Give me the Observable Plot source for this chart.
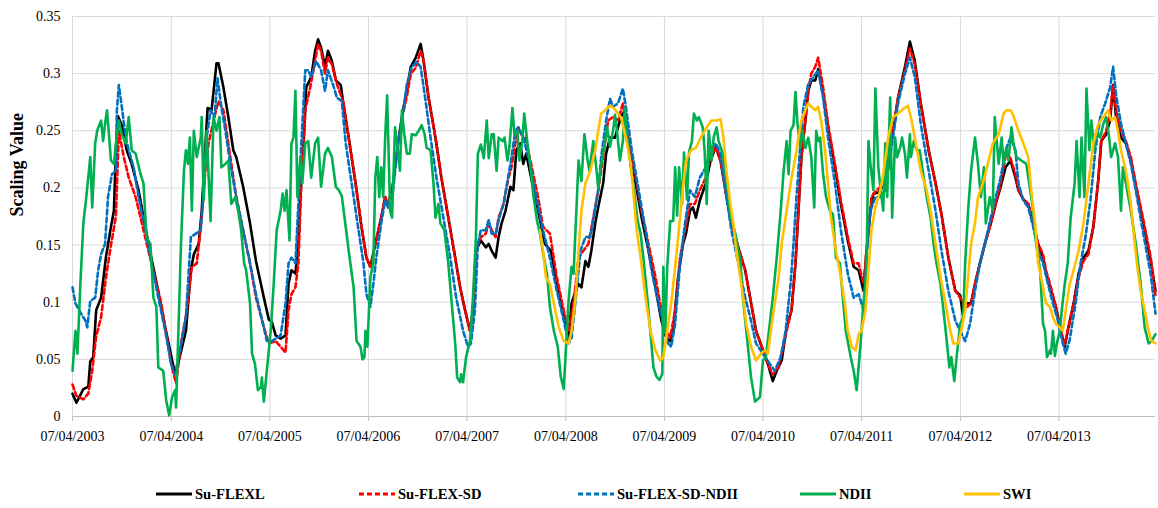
<!DOCTYPE html>
<html><head><meta charset="utf-8">
<script src="https://cdn.jsdelivr.net/npm/d3@7"></script>
<script src="https://cdn.jsdelivr.net/npm/@observablehq/plot@0.6"></script>
<style>
body{margin:0;background:#fff;}
#chart{position:relative;width:1158px;height:508px;font-family:"Liberation Serif","Times New Roman",serif;}
.item{position:absolute;top:485px;display:flex;align-items:center;height:18px;font-weight:bold;font-size:14.6px;color:#000;white-space:nowrap;}
.item svg{margin-right:3px;}
</style></head>
<body><div id="chart"></div>
<script>
// x values: years elapsed since 07/04/2003; y values: scaling value
const xTickLabels = ["07/04/2003","07/04/2004","07/04/2005","07/04/2006","07/04/2007","07/04/2008","07/04/2009","07/04/2010","07/04/2011","07/04/2012","07/04/2013"];
const yTicks = [0,0.05,0.1,0.15,0.2,0.25,0.3,0.35];
const xEnd = 10.98;

const suFlexL = [[0,.020],[.04,.012],[.11,.024],[.16,.026],[.18,.048],[.21,.052],[.24,.093],[.29,.104],[.34,.140],[.39,.166],[.42,.180],[.44,.233],[.46,.263],[.50,.255],[.55,.233],[.60,.221],[.67,.198],[.77,.151],[.84,.122],[.94,.078],[1.04,.037],[1.07,.046],[1.15,.075],[1.20,.128],[1.23,.142],[1.28,.151],[1.31,.180],[1.35,.241],[1.37,.270],[1.41,.268],[1.46,.309],[1.48,.309],[1.53,.288],[1.58,.262],[1.63,.233],[1.66,.227],[1.73,.201],[1.80,.169],[1.86,.136],[1.94,.104],[1.99,.085],[2.02,.083],[2.06,.071],[2.11,.068],[2.16,.071],[2.19,.116],[2.22,.128],[2.26,.125],[2.29,.151],[2.31,.192],[2.34,.233],[2.37,.288],[2.42,.297],[2.46,.320],[2.49,.330],[2.52,.323],[2.56,.306],[2.59,.320],[2.63,.311],[2.67,.294],[2.72,.290],[2.75,.271],[2.80,.244],[2.87,.204],[2.93,.166],[2.98,.139],[3.02,.131],[3.07,.151],[3.13,.174],[3.17,.192],[3.20,.183],[3.25,.204],[3.30,.239],[3.35,.268],[3.39,.285],[3.43,.306],[3.48,.314],[3.53,.326],[3.56,.311],[3.61,.279],[3.68,.244],[3.74,.209],[3.81,.174],[3.88,.139],[3.93,.113],[3.98,.093],[4.03,.075],[4.06,.093],[4.09,.145],[4.14,.154],[4.19,.148],[4.22,.151],[4.25,.145],[4.29,.139],[4.32,.157],[4.35,.169],[4.39,.180],[4.44,.201],[4.47,.198],[4.50,.233],[4.54,.239],[4.57,.221],[4.60,.230],[4.65,.209],[4.72,.180],[4.79,.151],[4.85,.145],[4.93,.107],[5.00,.081],[5.03,.069],[5.06,.099],[5.10,.110],[5.13,.116],[5.16,.113],[5.20,.136],[5.23,.131],[5.26,.145],[5.30,.169],[5.33,.183],[5.38,.204],[5.41,.230],[5.45,.244],[5.50,.244],[5.53,.253],[5.56,.262],[5.60,.268],[5.64,.239],[5.71,.204],[5.77,.174],[5.84,.145],[5.91,.113],[5.97,.084],[6.02,.069],[6.06,.066],[6.09,.075],[6.14,.122],[6.19,.151],[6.22,.160],[6.26,.180],[6.29,.183],[6.32,.174],[6.36,.189],[6.42,.204],[6.47,.224],[6.52,.236],[6.57,.224],[6.62,.198],[6.68,.169],[6.75,.148],[6.82,.128],[6.87,.104],[6.93,.075],[7.00,.058],[7.05,.046],[7.10,.031],[7.14,.040],[7.19,.049],[7.24,.078],[7.29,.093],[7.33,.134],[7.36,.180],[7.39,.227],[7.43,.259],[7.46,.285],[7.49,.294],[7.53,.294],[7.56,.304],[7.61,.282],[7.66,.253],[7.73,.218],[7.79,.186],[7.86,.154],[7.92,.131],[7.97,.128],[8.02,.110],[8.05,.145],[8.09,.180],[8.12,.195],[8.17,.196],[8.24,.204],[8.30,.239],[8.37,.279],[8.44,.306],[8.49,.328],[8.54,.311],[8.60,.274],[8.68,.233],[8.75,.204],[8.81,.177],[8.88,.139],[8.95,.110],[9.00,.106],[9.03,.087],[9.06,.099],[9.11,.099],[9.15,.116],[9.20,.134],[9.25,.151],[9.31,.169],[9.36,.186],[9.41,.201],[9.46,.218],[9.51,.224],[9.56,.209],[9.59,.198],[9.64,.190],[9.69,.186],[9.74,.169],[9.79,.151],[9.84,.139],[9.87,.125],[9.92,.110],[9.97,.096],[10.02,.075],[10.06,.061],[10.09,.075],[10.15,.099],[10.20,.125],[10.25,.139],[10.30,.145],[10.35,.166],[10.40,.207],[10.43,.241],[10.48,.247],[10.52,.259],[10.55,.290],[10.58,.262],[10.63,.244],[10.68,.239],[10.73,.224],[10.78,.201],[10.85,.172],[10.93,.137],[10.98,.110]];

const suFlexSD = [[0,.028],[.04,.018],[.11,.015],[.16,.020],[.20,.040],[.24,.070],[.29,.087],[.34,.122],[.39,.150],[.42,.165],[.44,.175],[.47,.250],[.52,.227],[.57,.209],[.64,.192],[.77,.145],[.90,.099],[1.00,.046],[1.05,.029],[1.10,.064],[1.16,.093],[1.21,.131],[1.26,.134],[1.31,.174],[1.35,.218],[1.38,.239],[1.43,.259],[1.48,.276],[1.53,.268],[1.60,.227],[1.66,.192],[1.73,.163],[1.80,.134],[1.86,.104],[1.94,.078],[1.99,.064],[2.06,.066],[2.11,.061],[2.16,.056],[2.19,.093],[2.22,.107],[2.26,.113],[2.29,.134],[2.32,.204],[2.36,.268],[2.41,.288],[2.46,.311],[2.49,.326],[2.52,.320],[2.56,.300],[2.59,.314],[2.63,.308],[2.68,.291],[2.75,.274],[2.80,.244],[2.87,.204],[2.93,.166],[2.98,.139],[3.02,.131],[3.07,.151],[3.13,.174],[3.17,.192],[3.20,.186],[3.25,.204],[3.30,.239],[3.35,.265],[3.39,.280],[3.43,.300],[3.48,.305],[3.53,.320],[3.56,.311],[3.61,.279],[3.68,.244],[3.74,.209],[3.81,.174],[3.88,.139],[3.93,.113],[3.98,.093],[4.03,.075],[4.06,.093],[4.09,.145],[4.14,.157],[4.19,.160],[4.22,.169],[4.25,.163],[4.29,.157],[4.32,.174],[4.37,.186],[4.42,.209],[4.45,.218],[4.49,.239],[4.52,.253],[4.55,.247],[4.59,.244],[4.65,.221],[4.72,.192],[4.77,.166],[4.84,.160],[4.91,.122],[4.98,.093],[5.03,.075],[5.08,.099],[5.13,.139],[5.18,.145],[5.23,.151],[5.28,.174],[5.33,.198],[5.38,.227],[5.43,.259],[5.48,.262],[5.53,.259],[5.58,.274],[5.64,.241],[5.71,.209],[5.77,.180],[5.84,.151],[5.91,.122],[5.97,.093],[6.02,.075],[6.06,.069],[6.11,.093],[6.16,.139],[6.21,.163],[6.26,.186],[6.31,.186],[6.36,.198],[6.42,.209],[6.47,.227],[6.52,.236],[6.57,.224],[6.62,.198],[6.68,.169],[6.75,.148],[6.82,.128],[6.87,.104],[6.93,.075],[7.00,.058],[7.05,.046],[7.10,.037],[7.16,.043],[7.24,.075],[7.29,.093],[7.33,.134],[7.36,.180],[7.39,.227],[7.43,.259],[7.46,.285],[7.49,.300],[7.53,.306],[7.56,.314],[7.61,.288],[7.66,.256],[7.73,.221],[7.79,.189],[7.86,.157],[7.92,.134],[7.97,.134],[8.02,.116],[8.05,.145],[8.10,.192],[8.15,.198],[8.24,.204],[8.30,.239],[8.37,.279],[8.44,.303],[8.49,.322],[8.54,.308],[8.60,.274],[8.68,.233],[8.75,.204],[8.81,.177],[8.88,.139],[8.95,.110],[9.00,.104],[9.06,.095],[9.11,.099],[9.15,.116],[9.20,.134],[9.25,.151],[9.31,.169],[9.36,.186],[9.41,.204],[9.47,.232],[9.51,.226],[9.56,.212],[9.59,.198],[9.64,.190],[9.69,.186],[9.74,.169],[9.79,.151],[9.84,.142],[9.87,.128],[9.92,.113],[9.97,.096],[10.02,.075],[10.06,.063],[10.09,.075],[10.15,.099],[10.20,.122],[10.25,.136],[10.30,.142],[10.35,.166],[10.40,.207],[10.43,.241],[10.48,.250],[10.52,.265],[10.55,.290],[10.58,.268],[10.63,.250],[10.68,.241],[10.73,.227],[10.78,.204],[10.85,.175],[10.93,.140],[10.98,.105]];

const suFlexSDNDII = [[0,.113],[.03,.099],[.08,.091],[.13,.084],[.15,.078],[.18,.101],[.23,.104],[.26,.128],[.29,.142],[.33,.151],[.36,.192],[.40,.212],[.44,.215],[.45,.268],[.47,.290],[.50,.271],[.54,.244],[.57,.233],[.62,.218],[.67,.192],[.74,.163],[.80,.134],[.87,.104],[.94,.075],[1.00,.046],[1.04,.037],[1.09,.058],[1.15,.087],[1.20,.157],[1.25,.160],[1.30,.163],[1.33,.198],[1.36,.244],[1.40,.268],[1.44,.262],[1.47,.296],[1.51,.270],[1.55,.250],[1.60,.221],[1.66,.192],[1.73,.163],[1.80,.134],[1.86,.107],[1.94,.078],[1.97,.066],[2.02,.066],[2.06,.068],[2.11,.071],[2.16,.099],[2.19,.134],[2.22,.139],[2.26,.134],[2.29,.186],[2.32,.239],[2.36,.303],[2.39,.303],[2.42,.297],[2.47,.311],[2.52,.303],[2.56,.285],[2.59,.303],[2.65,.288],[2.68,.279],[2.73,.276],[2.77,.239],[2.83,.204],[2.90,.163],[2.95,.134],[2.98,.107],[3.02,.096],[3.05,.116],[3.08,.139],[3.13,.169],[3.17,.189],[3.20,.183],[3.25,.198],[3.30,.239],[3.35,.265],[3.39,.291],[3.44,.306],[3.49,.310],[3.53,.306],[3.58,.276],[3.63,.244],[3.69,.209],[3.76,.174],[3.83,.139],[3.89,.104],[3.96,.075],[4.01,.061],[4.04,.064],[4.08,.093],[4.11,.151],[4.14,.163],[4.19,.163],[4.22,.172],[4.25,.160],[4.29,.160],[4.32,.172],[4.37,.186],[4.44,.221],[4.49,.250],[4.52,.253],[4.57,.244],[4.64,.221],[4.70,.192],[4.77,.163],[4.84,.139],[4.91,.110],[4.98,.084],[5.03,.064],[5.06,.069],[5.10,.101],[5.15,.145],[5.20,.157],[5.25,.157],[5.28,.172],[5.33,.198],[5.36,.227],[5.41,.259],[5.45,.278],[5.48,.271],[5.53,.274],[5.58,.287],[5.61,.271],[5.67,.233],[5.74,.198],[5.81,.163],[5.87,.128],[5.94,.099],[5.99,.081],[6.04,.064],[6.07,.061],[6.11,.081],[6.16,.134],[6.21,.169],[6.26,.198],[6.31,.192],[6.36,.209],[6.42,.218],[6.47,.233],[6.52,.239],[6.57,.230],[6.62,.198],[6.68,.163],[6.75,.134],[6.82,.104],[6.87,.087],[6.93,.064],[7.00,.055],[7.07,.046],[7.12,.040],[7.18,.052],[7.23,.075],[7.28,.116],[7.31,.151],[7.34,.192],[7.38,.239],[7.41,.271],[7.46,.291],[7.51,.297],[7.56,.303],[7.61,.279],[7.66,.244],[7.73,.204],[7.79,.163],[7.86,.125],[7.92,.104],[7.97,.107],[8.02,.093],[8.05,.139],[8.09,.180],[8.14,.192],[8.19,.192],[8.24,.198],[8.30,.233],[8.37,.274],[8.44,.300],[8.49,.314],[8.54,.297],[8.60,.256],[8.68,.215],[8.75,.180],[8.81,.145],[8.88,.110],[8.95,.084],[9.00,.075],[9.05,.066],[9.10,.081],[9.15,.110],[9.20,.134],[9.25,.151],[9.31,.174],[9.36,.192],[9.41,.209],[9.46,.233],[9.51,.244],[9.56,.233],[9.59,.204],[9.64,.189],[9.69,.183],[9.74,.166],[9.79,.145],[9.84,.134],[9.89,.116],[9.94,.099],[9.99,.084],[10.04,.064],[10.07,.055],[10.11,.067],[10.17,.099],[10.22,.134],[10.27,.157],[10.32,.189],[10.37,.233],[10.42,.262],[10.47,.274],[10.52,.288],[10.55,.306],[10.58,.282],[10.63,.256],[10.68,.239],[10.73,.221],[10.78,.198],[10.85,.163],[10.93,.125],[10.98,.090]];

const ndii = [[0,.040],[.03,.075],[.05,.055],[.08,.116],[.11,.169],[.14,.192],[.18,.227],[.20,.183],[.23,.239],[.25,.250],[.29,.259],[.31,.241],[.33,.256],[.35,.268],[.39,.224],[.42,.221],[.44,.239],[.47,.259],[.50,.247],[.54,.239],[.57,.262],[.60,.233],[.64,.230],[.69,.212],[.72,.204],[.75,.157],[.79,.151],[.82,.104],[.85,.096],[.87,.043],[.92,.040],[.95,.014],[.98,.001],[1.01,.017],[1.04,.023],[1.05,.008],[1.07,.064],[1.10,.151],[1.13,.215],[1.15,.233],[1.17,.221],[1.19,.244],[1.21,.180],[1.23,.250],[1.26,.227],[1.30,.244],[1.31,.262],[1.33,.189],[1.36,.250],[1.40,.171],[1.43,.262],[1.46,.250],[1.49,.262],[1.51,.218],[1.55,.221],[1.58,.224],[1.61,.186],[1.65,.192],[1.68,.180],[1.71,.163],[1.74,.134],[1.76,.128],[1.80,.099],[1.82,.055],[1.85,.046],[1.88,.023],[1.91,.026],[1.92,.034],[1.94,.013],[1.97,.040],[2.01,.075],[2.04,.116],[2.07,.163],[2.11,.180],[2.13,.195],[2.15,.180],[2.17,.198],[2.20,.154],[2.22,.239],[2.24,.244],[2.26,.285],[2.28,.192],[2.31,.227],[2.33,.204],[2.36,.239],[2.39,.241],[2.42,.209],[2.46,.239],[2.49,.244],[2.52,.201],[2.56,.230],[2.59,.235],[2.63,.227],[2.67,.201],[2.70,.198],[2.73,.193],[2.77,.166],[2.80,.145],[2.85,.113],[2.88,.066],[2.92,.061],[2.94,.050],[2.96,.052],[2.97,.075],[2.99,.061],[3.02,.122],[3.05,.134],[3.07,.209],[3.09,.227],[3.11,.192],[3.13,.218],[3.15,.192],[3.17,.244],[3.19,.281],[3.22,.180],[3.24,.174],[3.27,.253],[3.29,.239],[3.32,.215],[3.34,.268],[3.36,.250],[3.39,.230],[3.42,.230],[3.44,.247],[3.48,.246],[3.51,.250],[3.54,.255],[3.57,.247],[3.59,.235],[3.63,.233],[3.66,.204],[3.68,.174],[3.71,.186],[3.73,.169],[3.77,.163],[3.81,.134],[3.84,.104],[3.88,.064],[3.90,.034],[3.93,.030],[3.94,.037],[3.96,.030],[3.99,.052],[4.03,.066],[4.06,.104],[4.09,.157],[4.11,.230],[4.14,.238],[4.17,.226],[4.20,.259],[4.22,.226],[4.25,.247],[4.27,.247],[4.30,.215],[4.32,.244],[4.36,.241],[4.38,.244],[4.41,.224],[4.43,.236],[4.46,.270],[4.48,.247],[4.51,.250],[4.53,.224],[4.56,.241],[4.58,.265],[4.61,.241],[4.64,.221],[4.67,.195],[4.71,.171],[4.74,.160],[4.77,.143],[4.81,.125],[4.84,.096],[4.88,.075],[4.92,.061],[4.95,.035],[4.98,.024],[5.00,.055],[5.03,.102],[5.06,.131],[5.08,.125],[5.11,.183],[5.13,.224],[5.16,.206],[5.19,.247],[5.22,.226],[5.24,.215],[5.28,.241],[5.31,.218],[5.33,.200],[5.37,.226],[5.40,.241],[5.42,.253],[5.45,.236],[5.48,.250],[5.50,.264],[5.52,.250],[5.55,.224],[5.58,.241],[5.60,.270],[5.62,.247],[5.66,.218],[5.69,.200],[5.73,.171],[5.76,.160],[5.79,.137],[5.83,.102],[5.86,.073],[5.89,.043],[5.92,.035],[5.95,.032],[5.98,.037],[5.99,.131],[6.01,.073],[6.03,.131],[6.06,.171],[6.09,.171],[6.11,.218],[6.13,.176],[6.15,.218],[6.18,.186],[6.20,.231],[6.23,.190],[6.25,.231],[6.28,.241],[6.30,.265],[6.33,.259],[6.35,.262],[6.39,.253],[6.41,.231],[6.43,.186],[6.45,.250],[6.48,.224],[6.50,.244],[6.53,.253],[6.55,.241],[6.59,.231],[6.64,.200],[6.67,.176],[6.72,.160],[6.77,.137],[6.80,.101],[6.88,.034],[6.92,.013],[6.97,.017],[7.00,.049],[7.03,.052],[7.10,.104],[7.14,.139],[7.18,.180],[7.21,.215],[7.24,.241],[7.26,.212],[7.28,.250],[7.31,.255],[7.33,.284],[7.35,.256],[7.38,.235],[7.40,.250],[7.43,.235],[7.46,.244],[7.49,.227],[7.52,.183],[7.54,.250],[7.56,.241],[7.58,.244],[7.61,.212],[7.64,.192],[7.68,.180],[7.71,.177],[7.74,.139],[7.78,.134],[7.81,.104],[7.84,.075],[7.89,.052],[7.92,.040],[7.95,.023],[7.99,.064],[8.02,.099],[8.05,.128],[8.07,.241],[8.09,.221],[8.12,.198],[8.14,.287],[8.17,.218],[8.19,.201],[8.22,.180],[8.24,.239],[8.26,.192],[8.29,.279],[8.31,.174],[8.34,.244],[8.36,.227],[8.39,.235],[8.41,.244],[8.44,.230],[8.46,.209],[8.49,.247],[8.50,.227],[8.53,.241],[8.56,.233],[8.59,.233],[8.62,.215],[8.66,.192],[8.70,.174],[8.73,.151],[8.76,.134],[8.80,.116],[8.83,.093],[8.86,.069],[8.89,.043],[8.91,.052],[8.94,.031],[8.96,.049],[9.00,.081],[9.03,.087],[9.05,.134],[9.08,.180],[9.11,.215],[9.15,.244],[9.18,.221],[9.21,.192],[9.24,.218],[9.26,.169],[9.30,.192],[9.33,.180],[9.35,.262],[9.39,.221],[9.42,.244],[9.44,.221],[9.47,.235],[9.49,.224],[9.52,.253],[9.54,.239],[9.57,.227],[9.62,.224],[9.67,.221],[9.71,.198],[9.74,.180],[9.77,.151],[9.81,.128],[9.84,.081],[9.86,.075],[9.88,.052],[9.91,.058],[9.92,.055],[9.94,.075],[9.96,.053],[9.98,.064],[10.01,.075],[10.03,.093],[10.06,.116],[10.09,.134],[10.12,.174],[10.16,.204],[10.18,.241],[10.21,.192],[10.23,.244],[10.26,.192],[10.28,.287],[10.31,.233],[10.33,.259],[10.36,.233],[10.38,.250],[10.42,.244],[10.45,.256],[10.48,.262],[10.51,.244],[10.53,.227],[10.57,.239],[10.60,.227],[10.63,.180],[10.65,.218],[10.68,.204],[10.73,.180],[10.78,.151],[10.83,.116],[10.87,.078],[10.91,.064],[10.94,.066],[10.98,.072]];

const swi = [[4.74,.163],[4.77,.145],[4.80,.122],[4.84,.116],[4.88,.099],[4.93,.078],[4.98,.066],[5.03,.064],[5.06,.075],[5.10,.104],[5.13,.145],[5.16,.180],[5.20,.204],[5.25,.215],[5.30,.233],[5.33,.250],[5.36,.265],[5.40,.268],[5.45,.272],[5.50,.269],[5.53,.265],[5.56,.262],[5.61,.244],[5.66,.221],[5.69,.192],[5.72,.163],[5.76,.139],[5.81,.104],[5.86,.075],[5.91,.058],[5.96,.049],[5.99,.052],[6.02,.069],[6.07,.099],[6.12,.139],[6.16,.174],[6.19,.201],[6.22,.224],[6.27,.233],[6.32,.235],[6.37,.244],[6.43,.253],[6.48,.259],[6.53,.259],[6.57,.260],[6.60,.244],[6.63,.215],[6.67,.186],[6.70,.169],[6.73,.145],[6.77,.122],[6.80,.104],[6.83,.081],[6.88,.061],[6.93,.049],[6.98,.055],[7.02,.058],[7.05,.055],[7.08,.075],[7.12,.099],[7.16,.122],[7.19,.151],[7.23,.174],[7.26,.192],[7.29,.209],[7.33,.227],[7.36,.244],[7.39,.259],[7.43,.268],[7.46,.274],[7.49,.271],[7.53,.268],[7.56,.271],[7.59,.259],[7.63,.233],[7.66,.204],[7.69,.174],[7.74,.145],[7.79,.122],[7.83,.099],[7.86,.075],[7.90,.061],[7.94,.058],[7.97,.072],[8.00,.075],[8.04,.093],[8.07,.128],[8.10,.163],[8.14,.183],[8.19,.198],[8.22,.212],[8.27,.244],[8.32,.262],[8.37,.265],[8.42,.269],[8.47,.272],[8.50,.262],[8.55,.239],[8.60,.215],[8.66,.198],[8.70,.180],[8.75,.151],[8.80,.122],[8.85,.099],[8.90,.075],[8.93,.064],[8.98,.064],[9.01,.075],[9.05,.093],[9.08,.122],[9.11,.151],[9.15,.169],[9.18,.192],[9.23,.204],[9.28,.221],[9.33,.239],[9.39,.247],[9.44,.265],[9.47,.268],[9.51,.268],[9.54,.263],[9.59,.250],[9.64,.239],[9.69,.227],[9.72,.198],[9.76,.169],[9.79,.134],[9.82,.122],[9.87,.099],[9.91,.096],[9.94,.087],[9.97,.081],[10.01,.078],[10.04,.075],[10.07,.093],[10.11,.116],[10.15,.128],[10.20,.145],[10.25,.169],[10.30,.204],[10.35,.239],[10.40,.256],[10.45,.262],[10.50,.268],[10.53,.259],[10.57,.262],[10.60,.250],[10.63,.233],[10.68,.215],[10.73,.186],[10.77,.151],[10.80,.128],[10.83,.110],[10.87,.093],[10.91,.075],[10.94,.066],[10.98,.064]];

const seriesNames = ["Su-FLEXL","Su-FLEX-SD","Su-FLEX-SD-NDII","NDII","SWI"];
const seriesData = [suFlexL, suFlexSD, suFlexSDNDII, ndii, swi];
const seriesColors = ["#000000","#ff0000","#0070c0","#00b050","#ffc000"];
const seriesDash = [null,"5,3","5,3",null,null];
const legendLeft = [156, 359, 578, 800, 964];

const start = Date.UTC(2003,3,7);
const toDate = t => new Date(start + t*365.25*864e5);
const xTickDates = xTickLabels.map(s => { const [d,m,y] = s.split("/").map(Number); return new Date(Date.UTC(y,m-1,d)); });
const labelFor = d => xTickLabels[xTickDates.findIndex(t => +t === +d)];

const lineMarks = seriesData.map((data,i) => Plot.line(data, {
  x: d => toDate(d[0]), y: d => d[1],
  stroke: seriesColors[i], strokeWidth: 2.6,
  strokeDasharray: seriesDash[i] || undefined,
  strokeLinejoin: "round"
}));

const chart = Plot.plot({
  width: 1158, height: 460,
  marginLeft: 72, marginRight: 3, marginTop: 16, marginBottom: 44,
  style: {fontFamily: '"Liberation Serif","Times New Roman",serif', background: "#fff", color: "#000"},
  x: {type: "utc", domain: [toDate(0), toDate(xEnd)]},
  y: {domain: [0, 0.35]},
  marks: [
    Plot.ruleY(yTicks.slice(1), {stroke: "#d9d9d9", strokeWidth: 1}),
    Plot.ruleX(xTickDates, {stroke: "#d9d9d9", strokeWidth: 1}),
    Plot.ruleY([0], {stroke: "#bfbfbf", strokeWidth: 1}),
    Plot.axisX({ticks: xTickDates, tickFormat: labelFor, tickSize: 5, tickPadding: 10, stroke: "#bfbfbf", fill: "#000", fontSize: 14, label: null}),
    Plot.axisY({ticks: yTicks, tickFormat: d => String(+d.toFixed(2)), tickSize: 0, tickPadding: 12, fill: "#000", fontSize: 14, label: null}),
    Plot.text(["Scaling Value"], {frameAnchor: "left", dx: -55, rotate: -90, fontWeight: "bold", fontSize: 18, fill: "#000"}),
    ...lineMarks
  ]
});

const root = document.getElementById("chart");
root.appendChild(chart);
seriesNames.forEach((name, i) => {
  const item = document.createElement("div");
  item.className = "item";
  item.style.left = legendLeft[i] + "px";
  item.innerHTML = `<svg width="36" height="6"><line x1="0" y1="3" x2="36" y2="3" stroke="${seriesColors[i]}" stroke-width="3" ${seriesDash[i] ? `stroke-dasharray="${seriesDash[i]}"` : ""}/></svg><span>${name}</span>`;
  root.appendChild(item);
});
</script>
</body></html>
